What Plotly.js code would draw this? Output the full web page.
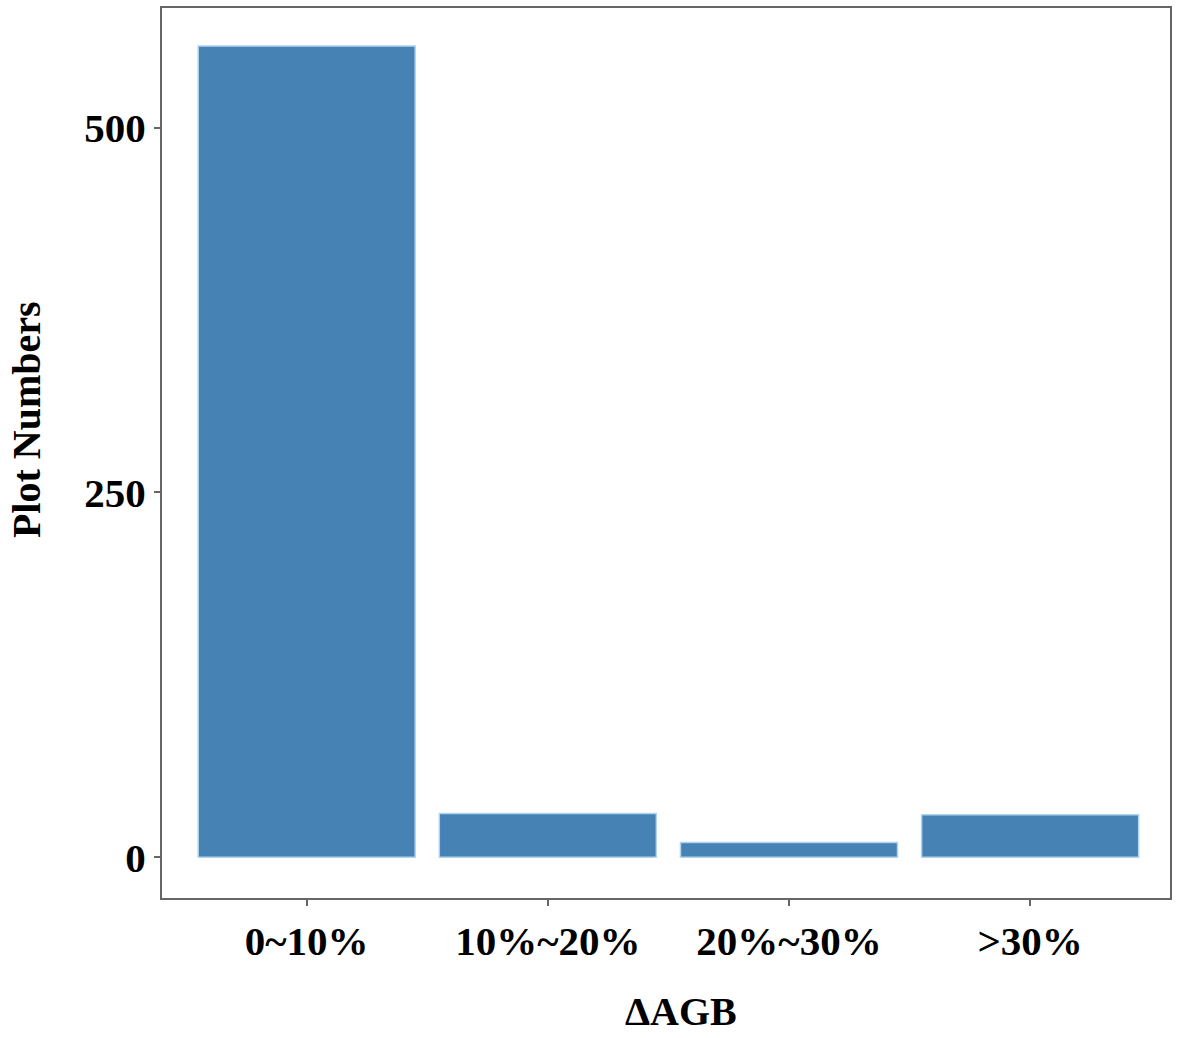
<!DOCTYPE html>
<html>
<head>
<meta charset="utf-8">
<script src="https://cdn.plot.ly/plotly-3.0.1.min.js"></script>
<style>html,body{margin:0;padding:0;background:#fff;}</style>
</head>
<body>
<div id="chart" style="width:1183px;height:1038px;"></div>
<script>
const categories = ["0~10%", "10%~20%", "20%~30%", ">30%"];
const plotNumbers = [556, 30, 10, 29];
const yTickVals = [0, 250, 500];
const yTickText = ["0", "250", "500"];
const xTitle = "ΔAGB";
const yTitle = "Plot Numbers";

const trace = {
  type: "bar",
  x: categories,
  y: plotNumbers,
  width: 0.9,
  marker: { color: "#4682B4", line: { color: "#B0D4EE", width: 1.5 } },
  hoverinfo: "x+y"
};

const fam = "Liberation Serif, Times New Roman, serif";

const layout = {
  width: 1183,
  height: 1038,
  margin: { l: 162, r: 13, t: 8, b: 140 },
  paper_bgcolor: "#fff",
  plot_bgcolor: "#fff",
  showlegend: false,
  font: { family: fam, color: "#000" },
  xaxis: {
    type: "category",
    range: [-0.6, 3.58],
    showline: true, mirror: true, linecolor: "#666", linewidth: 2,
    ticks: "outside", ticklen: 6, tickwidth: 2, tickcolor: "#666",
    showgrid: false, zeroline: false,
    tickfont: { family: fam, size: 41, color: "#000", weight: "bold" }
  },
  yaxis: {
    range: [-28, 582],
    tickvals: yTickVals, ticktext: yTickText,
    showline: true, mirror: true, linecolor: "#666", linewidth: 2,
    ticks: "outside", ticklen: 6, tickwidth: 2, tickcolor: "#666",
    showgrid: false, zeroline: false,
    tickfont: { family: fam, size: 41, color: "#000", weight: "bold" }
  },
  annotations: [
    {
      text: "<b>" + xTitle + "</b>", showarrow: false,
      xref: "paper", yref: "paper", x: 0.515, y: 0,
      xanchor: "center", yanchor: "middle", yshift: -113, borderpad: 0,
      font: { family: fam, size: 40, color: "#000" }
    },
    {
      text: "<b>" + yTitle + "</b>", showarrow: false, textangle: -90,
      xref: "paper", yref: "paper", x: 0, y: 0.537,
      xanchor: "center", yanchor: "middle", xshift: -136, borderpad: 0,
      font: { family: fam, size: 40, color: "#000" }
    }
  ]
};

Plotly.newPlot("chart", [trace], layout, { displayModeBar: false, staticPlot: true });
</script>
</body>
</html>
